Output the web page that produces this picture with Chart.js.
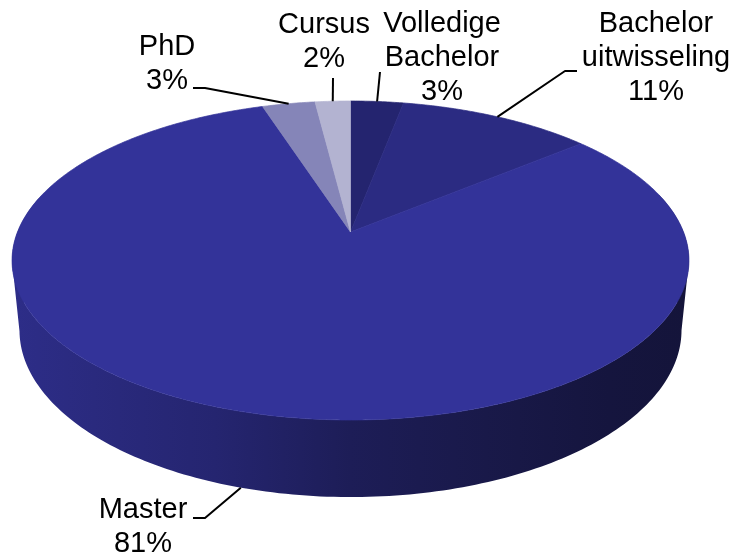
<!DOCTYPE html>
<html>
<head>
<meta charset="utf-8">
<style>html,body{margin:0;padding:0;background:#fff}#w{width:734px;height:556px;position:relative}</style>
<script src="https://cdn.jsdelivr.net/npm/chart.js@4/dist/chart.umd.min.js"></script>
</head>
<body>
<div id="w"><canvas id="c" width="734" height="556"></canvas></div>
<script>
const categories = ['Volledige\nBachelor', 'Bachelor\nuitwisseling', 'Master', 'PhD', 'Cursus'];
const shares = [3, 11, 81, 3, 2];
const sliceColors = ['#24246f', '#2b2b82', '#333399', '#8585b8', '#b3b3d1'];

const view = {
  cx: 350.5, k: 0.1787,
  top: {ay: 232, R: 333, Ry: 154.4},
  bottom: {ay: 300.2, R: 325.7, Ry: 161.7},
  wallStops: [[0,'#2d2d88'],[0.12,'#2a2a7e'],[0.3,'#252570'],[0.5,'#1d1d57'],[0.7,'#191949'],[0.88,'#15153e'],[1,'#14143a']]
};
// label block: centre x, first baseline; leader: knee points starting at the label
const labelLayout = [
  {x: 442, y: 32, rim: 'top', leader: [[380,72]]},
  {x: 656, y: 32, rim: 'top', leader: [[577,71],[565,71]]},
  {x: 143, y: 518, rim: 'bottom', leader: [[193,518],[205,518]]},
  {x: 167, y: 55, rim: 'top', leader: [[193,88],[205,88]]},
  {x: 324, y: 33, rim: 'top', leader: [[333,78]]}
];

function project(rim, a) {
  const c = Math.cos(a), s = Math.sin(a), w = 1 - view.k * s;
  return [view.cx + rim.R * c / w, rim.ay + rim.Ry * s / w];
}

const pie3d = {
  id: 'pie3d',
  beforeDatasetDraw(chart) {
    const ctx = chart.ctx, arcs = chart.getDatasetMeta(0).data;
    ctx.save();
    // side wall
    const g = ctx.createLinearGradient(12, 0, 690, 0);
    view.wallStops.forEach(s => g.addColorStop(s[0], s[1]));
    ctx.fillStyle = g;
    ctx.beginPath();
    arcs.forEach(arc => {
      const step = Math.PI / 180;
      for (let a = arc.startAngle; a < arc.endAngle; a += step) {
        const b = Math.min(a + step, arc.endAngle);
        const p = [project(view.top, a), project(view.top, b), project(view.bottom, b), project(view.bottom, a)];
        const front = Math.sin((a + b) / 2) >= -0.25;
        if (!front) continue;
        const order = p[1][0] > p[0][0] ? p : [p[3], p[2], p[1], p[0]];
        ctx.moveTo(order[0][0], order[0][1]);
        for (let i = 1; i < 4; i++) ctx.lineTo(order[i][0], order[i][1]);
        ctx.closePath();
      }
    });
    ctx.fill();
    // top surface
    arcs.forEach((arc, i) => {
      ctx.beginPath();
      ctx.moveTo(view.cx, view.top.ay);
      for (let a = arc.startAngle; a < arc.endAngle; a += Math.PI / 360) {
        const p = project(view.top, a);
        ctx.lineTo(p[0], p[1]);
      }
      const e = project(view.top, arc.endAngle);
      ctx.lineTo(e[0], e[1]);
      ctx.closePath();
      ctx.fillStyle = arc.options.backgroundColor;
      ctx.strokeStyle = arc.options.backgroundColor;
      ctx.lineWidth = 0.7;
      ctx.fill();
      ctx.stroke();
    });
    ctx.restore();
    return false;
  },
  afterDatasetsDraw(chart) {
    const ctx = chart.ctx, arcs = chart.getDatasetMeta(0).data;
    ctx.save();
    ctx.strokeStyle = '#000';
    ctx.lineWidth = 2;
    ctx.lineJoin = 'round';
    ctx.fillStyle = '#000';
    ctx.font = '29px "Liberation Sans", Arial, sans-serif';
    ctx.textAlign = 'center';
    ctx.textBaseline = 'alphabetic';
    arcs.forEach((arc, i) => {
      const l = labelLayout[i];
      const end = project(view[l.rim], (arc.startAngle + arc.endAngle) / 2);
      ctx.beginPath();
      l.leader.forEach((p, j) => j ? ctx.lineTo(p[0], p[1]) : ctx.moveTo(p[0], p[1]));
      ctx.lineTo(end[0], end[1]);
      ctx.stroke();
      const lines = categories[i].split('\n').concat(shares[i] + '%');
      lines.forEach((t, j) => ctx.fillText(t, l.x, l.y + j * 34));
    });
    ctx.restore();
  }
};

new Chart(document.getElementById('c'), {
  type: 'pie',
  data: {
    labels: categories.map(s => s.replace('\n', ' ')),
    datasets: [{data: shares, backgroundColor: sliceColors, borderWidth: 0}]
  },
  options: {
    responsive: false,
    animation: false,
    plugins: {legend: {display: false}, tooltip: {enabled: false}}
  },
  plugins: [pie3d]
});
</script>
</body>
</html>
